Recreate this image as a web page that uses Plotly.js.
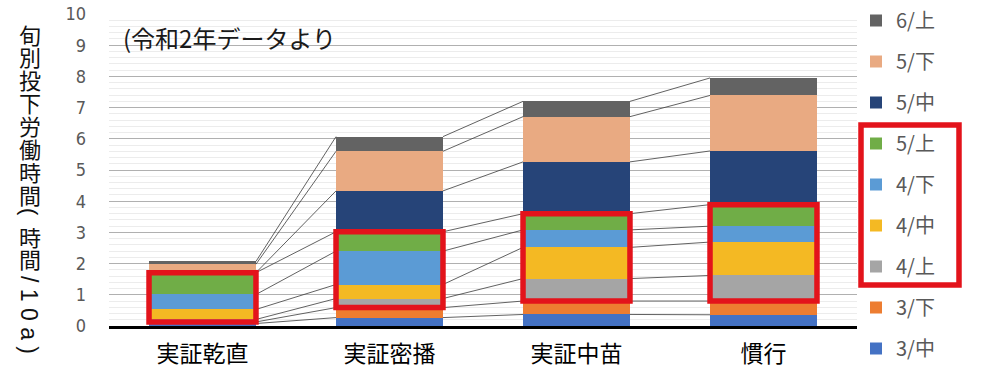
<!DOCTYPE html>
<html><head><meta charset="utf-8">
<script src="https://cdn.plot.ly/plotly-3.0.1.min.js"></script>
<style>html,body{margin:0;padding:0;background:#fff;}#chart{width:988px;height:372px;}</style>
</head><body><div id="chart"></div>
<script>
// ---- data ----
const categories = ['実証乾直', '実証密播', '実証中苗', '慣行'];
const seriesNames = ['3/中', '3/下', '4/上', '4/中', '4/下', '5/上', '5/中', '5/下', '6/上'];
const mar3Mid  = [0.08, 0.27, 0.37, 0.36];
const mar3Late = [0.05, 0.32, 0.43, 0.44];
const apr4Early= [0.08, 0.29, 0.72, 0.82];
const apr4Mid  = [0.32, 0.45, 1.00, 1.07];
const apr4Late = [0.48, 1.07, 0.56, 0.51];
const may5Early= [0.70, 0.62, 0.52, 0.69];
const may5Mid  = [0.00, 1.31, 1.66, 1.72];
const may5Late = [0.27, 1.27, 1.45, 1.78];
const jun6Early= [0.09, 0.47, 0.49, 0.56];
const yTickVals = [0,1,2,3,4,5,6,7,8,9,10];
const noteText = '(令和2年データより';

const seriesValues = [mar3Mid, mar3Late, apr4Early, apr4Mid, apr4Late, may5Early, may5Mid, may5Late, jun6Early];
const colors = ['#4472C4', '#ED7D31', '#A5A5A5', '#F4B923', '#5B9BD5', '#70AD47', '#264478', '#E9AA82', '#636363'];

// ---- geometry helpers (style) ----
const W = 988, H = 372;
const M = {l: 109, r: 131, t: 14, b: 46, autoexpand: false};
const PW = W - M.l - M.r, PH = H - M.t - M.b;
const px2x = p => (p - M.l) / PW;
const px2y = p => (H - M.b - p) / PH;
const barW = 0.572;
const xIdx = categories.map((c, i) => i);

const traces = [];
seriesValues.forEach((vals, s) => {
  traces.push({
    type: 'bar', x: xIdx, y: vals, name: seriesNames[s], width: barW,
    marker: {color: colors[s], line: {width: 0}},
    legendgroup: seriesNames[s], legendrank: 1000 - s * 10, hoverinfo: 'name+y'
  });
});

// cumulative tops
const cum = [];
let run = categories.map(() => 0);
seriesValues.forEach(vals => { run = run.map((r, i) => r + vals[i]); cum.push(run.slice()); });

// series (connector) lines
const lx = [], ly = [];
cum.forEach(c => {
  for (let i = 0; i < categories.length - 1; i++) {
    lx.push(xIdx[i] + barW / 2, xIdx[i + 1] - barW / 2, null);
    ly.push(c[i], c[i + 1], null);
  }
});
traces.push({type: 'scatter', mode: 'lines', x: lx, y: ly, line: {color: '#3a3a3a', width: 0.8},
  showlegend: false, hoverinfo: 'skip'});

const shapes = [];
shapes.push({type: 'rect', xref: 'paper', yref: 'paper', layer: 'between',
  x0: px2x(110), x1: px2x(350), y0: px2y(61), y1: px2y(18), fillcolor: '#ffffff', line: {width: 0}});
categories.forEach((c, i) => {
  shapes.push({type: 'rect', xref: 'x', yref: 'y', layer: 'above',
    x0: xIdx[i] - barW / 2, x1: xIdx[i] + barW / 2, y0: cum[1][i], y1: cum[5][i],
    line: {color: '#E3131B', width: 5.5}, fillcolor: 'rgba(0,0,0,0)'});
});
shapes.push({type: 'rect', xref: 'paper', yref: 'paper', layer: 'above',
  x0: px2x(861), x1: px2x(959), y0: px2y(285), y1: px2y(125),
  line: {color: '#E3131B', width: 5.5}, fillcolor: 'rgba(0,0,0,0)'});

const annotations = [];
annotations.push({xref: 'paper', yref: 'paper', x: px2x(121), y: px2y(38), xanchor: 'left', yanchor: 'middle',
  text: noteText, showarrow: false, font: {family: 'Noto Sans CJK JP', size: 24, color: '#1a1a1a'}});

// vertical y-axis title
const titleFont = {family: 'Noto Sans CJK JP', size: 22, color: '#111'};
const upright1 = '旬別投下労働時間';
[...upright1].forEach((ch, k) => {
  annotations.push({xref: 'paper', yref: 'paper', x: px2x(30), y: px2y(33.5 + 22.9 * k),
    xanchor: 'center', yanchor: 'middle', text: ch, showarrow: false, font: titleFont});
});
annotations.push({xref: 'paper', yref: 'paper', x: px2x(30), y: px2y(212), xanchor: 'center', yanchor: 'middle',
  text: '(', textangle: 90, showarrow: false, font: {family: 'Liberation Sans', size: 22, color: '#111'}});
['時', '間'].forEach((ch, k) => {
  annotations.push({xref: 'paper', yref: 'paper', x: px2x(30), y: px2y(236 + 21.5 * k),
    xanchor: 'center', yanchor: 'middle', text: ch, showarrow: false, font: titleFont});
});
annotations.push({xref: 'paper', yref: 'paper', x: px2x(29), y: px2y(315), xanchor: 'center', yanchor: 'middle',
  text: '/ 1 0 a )', textangle: 90, showarrow: false, font: {family: 'Liberation Sans', size: 23, color: '#111'}});

const layout = {
  width: W, height: H, margin: M, paper_bgcolor: '#fff', plot_bgcolor: '#fff',
  barmode: 'stack', showlegend: true,
  font: {family: 'Noto Sans CJK JP'},
  xaxis: {range: [-0.5, categories.length - 0.5], tickvals: xIdx, ticktext: categories,
    showgrid: false, zeroline: false, showline: true, linecolor: '#000', linewidth: 2.5,
    ticks: '', ticklabelstandoff: 6, tickfont: {family: 'Noto Sans CJK JP', size: 23, color: '#000'}},
  yaxis: {range: [0, 10], tickvals: yTickVals, showgrid: true, gridcolor: '#b0b0b0', gridwidth: 1,
    minor: {dtick: 0.2, showgrid: true, gridcolor: '#ececec', gridwidth: 1},
    zeroline: false, ticks: '', ticklabelstandoff: 22,
    tickfont: {family: "'Liberation Sans Narrow', 'DejaVu Sans Condensed', sans-serif", size: 18, color: '#595959'}},
  legend: {x: px2x(856), xanchor: 'left', y: px2y(1), yanchor: 'top', traceorder: 'grouped',
    tracegroupgap: 12, maxheight: 600, font: {family: 'Noto Sans CJK JP', size: 20, color: '#595959'},
    bgcolor: 'rgba(0,0,0,0)', itemwidth: 30},
  shapes: shapes, annotations: annotations
};

Plotly.newPlot('chart', traces, layout, {staticPlot: true});
</script></body></html>
